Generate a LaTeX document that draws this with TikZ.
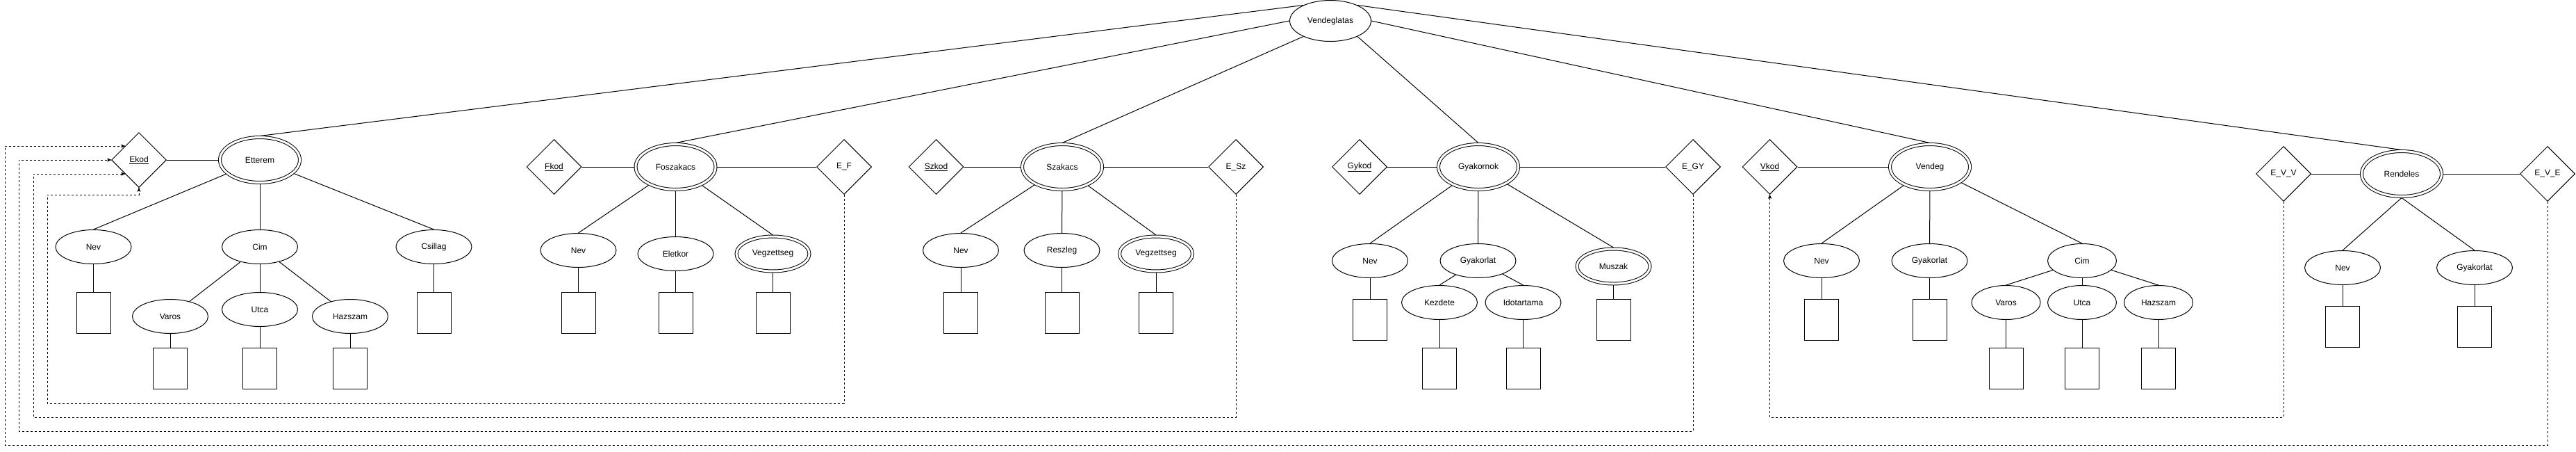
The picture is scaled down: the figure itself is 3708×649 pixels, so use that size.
\documentclass[tikz,border=0pt]{standalone}
\usepackage{fontspec}
\setmainfont{Liberation Sans}
\usepackage{tikz}
\usetikzlibrary{arrows,shapes.geometric}
\tikzset{
  BaseNode/.style = {align=center, inner sep=1pt, text centered, draw=black, font=\fontsize{12}{14}\selectfont},
  RootNode/.style = {BaseNode, ellipse, minimum width=117pt, minimum height=59pt},
  EntityNode/.style = {BaseNode, ellipse, double, double distance=3pt, minimum width=115pt, minimum height=65pt, outer sep=2pt},
  AttrNode/.style = {BaseNode, ellipse, minimum width=109pt, minimum height=49pt},
  SmallAttrNode/.style = {AttrNode, minimum width=99pt},
  MultiNode/.style = {BaseNode, ellipse, double, double distance=3pt, minimum width=105pt, minimum height=50pt, outer sep=2pt},
  KeyNode/.style = {BaseNode, diamond, minimum width=79pt, minimum height=79pt},
  RelNode/.style = {KeyNode},
  ValueNode/.style = {BaseNode, rectangle, minimum width=49pt, minimum height=59pt},
  RefLine/.style = {->, dashed},
}

\begin{document}
\begin{tikzpicture}[x=1pt, y=-1pt, line width=1pt, >=stealth']
    \useasboundingbox (0,0) rectangle (3708,649);

    \node [RootNode] (Vendeglatas) at (1915,30) {Vendeglatas};

    % Etterem
    \node [KeyNode] (Ekod) at (200,230) {\underline{Ekod}};
    \node [EntityNode] (Etterem) at (374,230) {Etterem};
    \node [AttrNode] (EtteremNev) at (134.5,355) {Nev};
    \node [AttrNode] (EtteremCim) at (374,355) {Cim};
    \node [AttrNode] (EtteremCsillag) at (624.5,355) {Csillag};
    \node [AttrNode] (EtteremVaros) at (245,455) {Varos};
    \node [AttrNode] (EtteremUtca) at (374,445) {Utca};
    \node [AttrNode] (EtteremHazszam) at (504,455) {Hazszam};
    \node [ValueNode] (EtteremNevBox) at (134.5,450) {};
    \node [ValueNode] (EtteremCsillagBox) at (624.5,450) {};
    \node [ValueNode] (EtteremVarosBox) at (245,530) {};
    \node [ValueNode] (EtteremUtcaBox) at (374,530) {};
    \node [ValueNode] (EtteremHazszamBox) at (504,530) {};

    % Foszakacs
    \node [KeyNode] (Fkod) at (797.5,240) {\underline{Fkod}};
    \node [EntityNode] (Foszakacs) at (972.5,240) {Foszakacs};
    \node [RelNode] (EF) at (1215,240) {E\_F};
    \node [AttrNode] (FoszakacsNev) at (832.5,360) {Nev};
    \node [AttrNode] (FoszakacsEletkor) at (972.5,365) {Eletkor};
    \node [MultiNode] (FoszakacsVegzettseg) at (1112.5,365) {Vegzettseg};
    \node [ValueNode] (FoszakacsNevBox) at (832.5,450) {};
    \node [ValueNode] (FoszakacsEletkorBox) at (972.5,450) {};
    \node [ValueNode] (FoszakacsVegzettsegBox) at (1112.5,450) {};

    % Szakacs
    \node [KeyNode] (Szkod) at (1347.5,240) {\underline{Szkod}};
    \node [EntityNode] (Szakacs) at (1529,240) {Szakacs};
    \node [RelNode] (ESz) at (1779,240) {E\_Sz};
    \node [AttrNode] (SzakacsNev) at (1383,360) {Nev};
    \node [AttrNode] (SzakacsReszleg) at (1528.5,360) {Reszleg};
    \node [MultiNode] (SzakacsVegzettseg) at (1664,365) {Vegzettseg};
    \node [ValueNode] (SzakacsNevBox) at (1383,450) {};
    \node [ValueNode] (SzakacsReszlegBox) at (1528.5,450) {};
    \node [ValueNode] (SzakacsVegzettsegBox) at (1664,450) {};

    % Gyakornok
    \node [KeyNode] (Gykod) at (1957,240) {\underline{Gykod}};
    \node [EntityNode] (Gyakornok) at (2128,240) {Gyakornok};
    \node [RelNode] (EGY) at (2437,240) {E\_GY};
    \node [AttrNode] (GyakornokNev) at (1972,375) {Nev};
    \node [AttrNode] (GyakornokGyakorlat) at (2127.5,375) {Gyakorlat};
    \node [AttrNode] (GyakornokKezdete) at (2072,435) {Kezdete};
    \node [AttrNode] (GyakornokIdotartama) at (2192.5,435) {Idotartama};
    \node [MultiNode] (GyakornokMuszak) at (2322.5,383) {Muszak};
    \node [ValueNode] (GyakornokNevBox) at (1972,460) {};
    \node [ValueNode] (GyakornokKezdeteBox) at (2072,530) {};
    \node [ValueNode] (GyakornokIdotartamaBox) at (2192.5,530) {};
    \node [ValueNode] (GyakornokMuszakBox) at (2322.5,460) {};

    % Vendeg
    \node [KeyNode] (Vkod) at (2547.5,240) {\underline{Vkod}};
    \node [EntityNode] (Vendeg) at (2778,240) {Vendeg};
    \node [AttrNode] (VendegNev) at (2622,375) {Nev};
    \node [AttrNode] (VendegGyakorlat) at (2777.5,375) {Gyakorlat};
    \node [SmallAttrNode] (VendegCim) at (2997,375) {Cim};
    \node [SmallAttrNode] (VendegVaros) at (2887.5,435) {Varos};
    \node [SmallAttrNode] (VendegUtca) at (2997,435) {Utca};
    \node [SmallAttrNode] (VendegHazszam) at (3107,435) {Hazszam};
    \node [ValueNode] (VendegNevBox) at (2622,460) {};
    \node [ValueNode] (VendegGyakorlatBox) at (2777.5,460) {};
    \node [ValueNode] (VendegVarosBox) at (2887.5,530) {};
    \node [ValueNode] (VendegUtcaBox) at (2997,530) {};
    \node [ValueNode] (VendegHazszamBox) at (3107,530) {};

    % Rendeles
    \node [RelNode] (EVV) at (3287,250) {E\_V\_V};
    \node [EntityNode] (Rendeles) at (3457,250) {Rendeles};
    \node [RelNode] (EVE) at (3667,250) {E\_V\_E};
    \node [AttrNode] (RendelesNev) at (3372,385) {Nev};
    \node [AttrNode] (RendelesGyakorlat) at (3562,385) {Gyakorlat};
    \node [ValueNode] (RendelesNevBox) at (3372,470) {};
    \node [ValueNode] (RendelesGyakorlatBox) at (3562,470) {};

    \draw (Vendeglatas.150) -- (Etterem.north);
    \draw (Vendeglatas.west) -- (Foszakacs.north);
    \draw (Vendeglatas.210) -- (Szakacs.north);
    \draw (Vendeglatas.330) -- (Gyakornok.north);
    \draw (Vendeglatas.east) -- (Vendeg.north);
    \draw (Vendeglatas.30) -- (Rendeles.north);

    \draw (Ekod) -- (Etterem);
    \draw (Fkod) -- (Foszakacs) -- (EF);
    \draw (Szkod) -- (Szakacs) -- (ESz);
    \draw (Gykod) -- (Gyakornok) -- (EGY);
    \draw (Vkod) -- (Vendeg);
    \draw (EVV) -- (Rendeles) -- (EVE);

    \draw (Etterem) -- (EtteremNev.north);
    \draw (Etterem) -- (EtteremCim);
    \draw (Etterem) -- (EtteremCsillag.north);
    \draw (EtteremCim) -- (EtteremVaros);
    \draw (EtteremCim) -- (EtteremUtca);
    \draw (EtteremCim) -- (EtteremHazszam);
    \draw (Foszakacs) -- (FoszakacsNev.north);
    \draw (Foszakacs) -- (FoszakacsEletkor);
    \draw (Foszakacs) -- (FoszakacsVegzettseg.north);
    \draw (Szakacs) -- (SzakacsNev.north);
    \draw (Szakacs) -- (SzakacsReszleg);
    \draw (Szakacs) -- (SzakacsVegzettseg.north);
    \draw (Gyakornok) -- (GyakornokNev.north);
    \draw (Gyakornok) -- (GyakornokGyakorlat);
    \draw (Gyakornok) -- (GyakornokMuszak.north);
    \draw (GyakornokGyakorlat) -- (GyakornokKezdete.north);
    \draw (GyakornokGyakorlat) -- (GyakornokIdotartama.north);
    \draw (Vendeg) -- (VendegNev.north);
    \draw (Vendeg) -- (VendegGyakorlat);
    \draw (Vendeg) -- (VendegCim.north);
    \draw (VendegCim) -- (VendegVaros.north);
    \draw (VendegCim) -- (VendegUtca);
    \draw (VendegCim) -- (VendegHazszam.north);
    \draw (Rendeles.south) -- (RendelesNev.north);
    \draw (Rendeles.south) -- (RendelesGyakorlat.north);

    \foreach \a in {EtteremNev, EtteremCsillag, EtteremVaros, EtteremUtca, EtteremHazszam,
                    FoszakacsNev, FoszakacsEletkor, FoszakacsVegzettseg,
                    SzakacsNev, SzakacsReszleg, SzakacsVegzettseg,
                    GyakornokNev, GyakornokKezdete, GyakornokIdotartama, GyakornokMuszak,
                    VendegNev, VendegGyakorlat, VendegVaros, VendegUtca, VendegHazszam,
                    RendelesNev, RendelesGyakorlat}
        \draw (\a) -- (\a Box);

    \draw [RefLine] (EF.south) |- (68,580) |- (200,280) -- (Ekod.south);
    \draw [RefLine] (ESz.south) |- (48,600) |- (Ekod.225);
    \draw [RefLine] (EGY.south) |- (27,620) |- (Ekod.west);
    \draw [RefLine] (EVE.south) |- (7,640) |- (Ekod.135);
    \draw [RefLine] (EVV.south) |- (2547.5,600) -- (Vkod.south);
\end{tikzpicture}
\end{document}
